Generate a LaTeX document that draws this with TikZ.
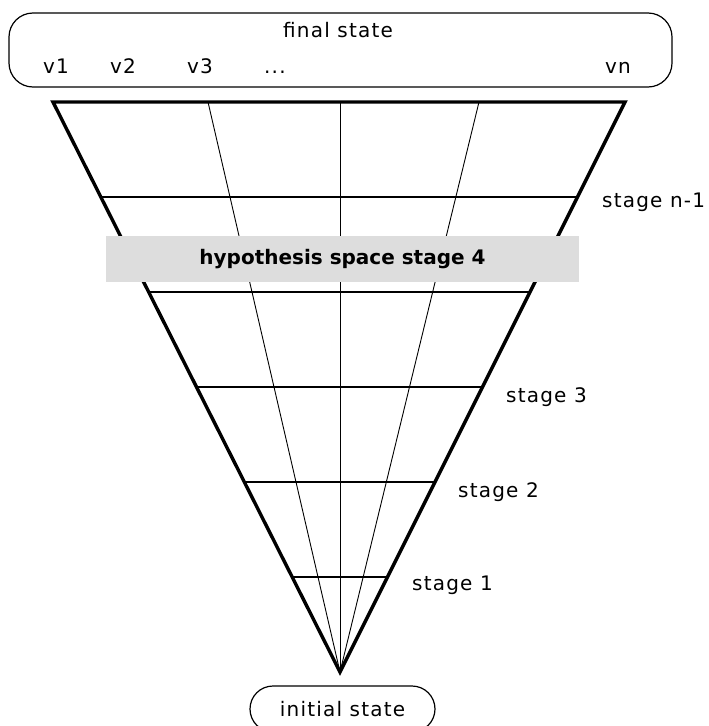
\documentclass[tikz,border=0pt]{standalone}
\usepackage{fontspec}
\setmainfont{DejaVu Sans}[LetterSpace=6]
\newfontfamily\hyfont{DejaVu Sans}[LetterSpace=0]
\usetikzlibrary{calc}
\definecolor{boxgray}{RGB}{221,221,221}
\begin{document}
\begin{tikzpicture}[x=1pt,y=-1pt,
  lbl/.style={anchor=base west,inner sep=0pt,font=\fontsize{20}{24}\selectfont},
  coneedge/.style={line width=3.4pt,line join=miter},
  ray/.style={line width=0.9pt},
  stageline/.style={line width=1.2pt},
  statebox/.style={draw,line width=1.2pt,rounded corners=24pt,inner sep=0pt},
  hypbox/.style={fill=boxgray,inner sep=0pt,minimum width=473pt,minimum height=46pt,
    font=\hyfont\bfseries\fontsize{20}{24}\selectfont}]
\useasboundingbox (0,0) rectangle (709,726);
% cone geometry
\coordinate (TL) at (53,102);
\coordinate (TR) at (625,102);
\coordinate (A) at (340,672);
\coordinate (T1) at (208,102);
\coordinate (T2) at (340,102);
\coordinate (T3) at (479,102);
% rays
\draw[ray] (A) -- (T1);
\draw[ray] (A) -- (T2);
\draw[ray] (A) -- (T3);
% stage lines
\foreach \t/\n in {0.1667/5,0.3333/4,0.5/3,0.6667/2,0.8333/1}{
  \coordinate (SL\n) at ($(TL)!\t!(A)$);
  \coordinate (SR\n) at ($(TR)!\t!(A)$);
  \draw[stageline] (SL\n) -- (SR\n);
}
% outline
\draw[coneedge] (TL) -- (TR) -- (A) -- cycle;
% hypothesis box
\node[hypbox] (hyp) at (342.5,259) {hypothesis space stage 4};
% stage labels
\node[lbl] (s1) at (412,590) {stage 1};
\node[lbl] (s2) at (458,497) {stage 2};
\node[lbl] (s3) at (506,402) {stage 3};
\node[lbl] (sn) at (602,207) {stage n-1};
% final state box
\node[statebox,minimum width=663pt,minimum height=74pt] (final) at (340.5,50) {};
\node[lbl] (ft) at (283,37) {final state};
\node[lbl] (v1) at (43,73) {v1};
\node[lbl] (v2) at (110,73) {v2};
\node[lbl] (v3) at (187,73) {v3};
\node[lbl] (vd) at (264,73) {...};
\node[lbl] (vn) at (605,73) {vn};
% initial state
\node[statebox,rounded corners=23pt,minimum width=185pt,minimum height=46pt,
  font=\fontsize{20}{24}\selectfont] (init) at (342.5,709) {initial state};
\end{tikzpicture}
\end{document}
